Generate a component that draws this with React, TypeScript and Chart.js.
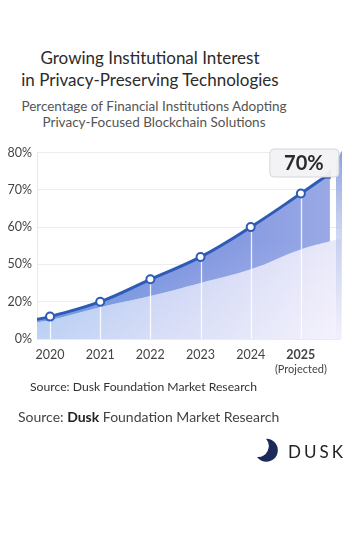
import React, { useEffect, useRef } from 'react';
import { Chart, registerables } from 'chart.js';

Chart.register(...registerables);

// ---------- data ----------
const years = [2020, 2021, 2022, 2023, 2024, 2025];
const adoption = [12, 20, 38, 52, 60, 69];
const lowerBand = [10, 17, 24.5, 35, 46, 54];
const lineStart = { x: 2019.74, y: 10.6 };
const lineEnd = { x: 2025.58, y: 74.4 };
const bandStart = { x: 2019.74, y: 9 };
const bandEnd = { x: 2025.8, y: 57 };
const tickValues = [0, 20, 50, 60, 70, 80];
const tickLabels = ['0%', '20%', '50%', '60%', '70%', '80%'];
const calloutText = '70%';
const projectedYear = 2025;
const projectedNote = '(Projected)';
const xRange = { min: 2019.74, max: 2025.8 };

// map a percentage onto the evenly spaced (non-linear) tick positions
function toAxis(p: number): number {
  for (let i = 0; i < tickValues.length - 1; i++) {
    if (p <= tickValues[i + 1]) {
      return i + (p - tickValues[i]) / (tickValues[i + 1] - tickValues[i]);
    }
  }
  return tickValues.length - 1 + (p - tickValues[tickValues.length - 1]) / 10;
}

const lineData = [
  { x: lineStart.x, y: toAxis(lineStart.y) },
  ...years.map((yr, i) => ({ x: yr, y: toAxis(adoption[i]) })),
  { x: lineEnd.x, y: toAxis(lineEnd.y) },
];
const bandData = [
  { x: bandStart.x, y: toAxis(bandStart.y) },
  ...years.map((yr, i) => ({ x: yr, y: toAxis(lowerBand[i]) })),
  { x: bandEnd.x, y: toAxis(bandEnd.y) },
];

const FONT = 'Lato, "Open Sans", sans-serif';

const decorPlugin = {
  id: 'decor',
  beforeDatasetsDraw(chart: any) {
    const { ctx, chartArea } = chart;
    // soft white fade towards the bottom of the filled area
    const fade = ctx.createLinearGradient(0, chartArea.top + 90, 0, chartArea.bottom);
    fade.addColorStop(0, 'rgba(255,255,255,0)');
    fade.addColorStop(1, 'rgba(255,255,255,0.25)');
    ctx.save();
    ctx.fillStyle = fade;
    ctx.fillRect(chartArea.left, chartArea.top + 90, chartArea.right - chartArea.left, chartArea.bottom - chartArea.top - 90);
    // white drop lines from each point to the baseline (after fills)
    const meta = chart.getDatasetMeta(0);
    ctx.strokeStyle = 'rgba(255,255,255,0.85)';
    ctx.lineWidth = 1.3;
    meta.data.forEach((pt: any, i: number) => {
      if (i === 0 || i === meta.data.length - 1) return;
      ctx.beginPath();
      ctx.moveTo(Math.round(pt.x) + 0.5, pt.y);
      ctx.lineTo(Math.round(pt.x) + 0.5, chartArea.bottom);
      ctx.stroke();
    });
    ctx.restore();
  },
  afterDatasetsDraw(chart: any) {
    const { ctx, chartArea } = chart;
    const meta = chart.getDatasetMeta(0);
    const last = meta.data[meta.data.length - 1];
    ctx.save();
    // side panel on the right edge
    const px0 = chartArea.right - 5;
    const px1 = chartArea.right + 1;
    const g = ctx.createLinearGradient(0, chartArea.top, 0, chartArea.bottom);
    g.addColorStop(0, 'rgba(125,150,218,0.9)');
    g.addColorStop(0.45, 'rgba(175,190,234,0.6)');
    g.addColorStop(1, 'rgba(238,238,250,0.5)');
    ctx.fillStyle = g;
    ctx.beginPath();
    ctx.moveTo(px0, chartArea.top + 9);
    ctx.lineTo(px1, chartArea.top - 2);
    ctx.lineTo(px1, chartArea.bottom);
    ctx.lineTo(px0, chartArea.bottom);
    ctx.closePath();
    ctx.fill();

    // arrow head at the end of the trend line
    ctx.fillStyle = '#1f3f8f';
    ctx.beginPath();
    ctx.moveTo(last.x + 1, last.y - 5);
    ctx.lineTo(last.x + 1, last.y + 5);
    ctx.lineTo(last.x - 8, last.y + 5);
    ctx.closePath();
    ctx.fill();

    // callout box over the projected point
    const pp = meta.data[years.indexOf(projectedYear) + 1];
    const bw = 69, bh = 28;
    const bx = pp.x + 3 - bw / 2;
    const by = pp.y - 17 - bh;
    ctx.fillStyle = 'rgba(242,242,245,0.96)';
    ctx.strokeStyle = '#d6d6dc';
    ctx.lineWidth = 1;
    ctx.beginPath();
    (ctx as any).roundRect(bx + 0.5, by + 0.5, bw, bh, 4);
    ctx.fill();
    ctx.stroke();
    ctx.fillStyle = '#2a2a2a';
    ctx.font = `bold 20px ${FONT}`;
    ctx.textAlign = 'center';
    ctx.textBaseline = 'middle';
    ctx.fillText(calloutText, bx + bw / 2, by + bh / 2 + 1);

    // "(Projected)" under the 2025 tick
    const xs = chart.scales.x;
    ctx.fillStyle = '#444';
    ctx.font = `11px ${FONT}`;
    ctx.fillText(projectedNote, xs.getPixelForValue(projectedYear), chartArea.bottom + 30);
    ctx.restore();
  },
};

function ChartCanvas() {
  const ref = useRef<HTMLCanvasElement | null>(null);
  useEffect(() => {
    if (!ref.current) return;
    const chart = new Chart(ref.current, {
      type: 'line',
      data: {
        datasets: [
          {
            label: 'Adoption',
            data: lineData,
            borderColor: '#2d5bb5',
            borderWidth: 3,
            tension: 0.4,
            pointRadius: lineData.map((_, i) => (i === 0 || i === lineData.length - 1 ? 0 : 4)),
            pointBackgroundColor: '#ffffff',
            pointBorderColor: '#2d5bb5',
            pointBorderWidth: 2,
            fill: '+1',
            backgroundColor: (c: any) => {
              const a = c.chart.chartArea;
              if (!a) return 'rgba(90,120,215,0.8)';
              const gr = c.chart.ctx.createLinearGradient(a.left, 0, a.right, 0);
              gr.addColorStop(0, '#5080d8');
              gr.addColorStop(0.5, '#7d93df');
              gr.addColorStop(1, '#9cabe6');
              return gr;
            },
          },
          {
            label: 'Band',
            data: bandData,
            borderWidth: 0,
            pointRadius: 0,
            tension: 0.4,
            fill: 'origin',
            backgroundColor: (c: any) => {
              const a = c.chart.chartArea;
              if (!a) return 'rgba(200,210,245,0.8)';
              const gr = c.chart.ctx.createLinearGradient(a.left, a.top + 90, a.right, a.bottom);
              gr.addColorStop(0, '#a0c0f0');
              gr.addColorStop(0.45, '#cbd3f4');
              gr.addColorStop(1, '#f1eefb');
              return gr;
            },
          },
        ],
      },
      options: {
        responsive: false,
        animation: false,
        layout: { padding: { top: 10, right: 15, left: 0, bottom: 0 } },
        plugins: {
          legend: { display: false },
          tooltip: { enabled: false },
          filler: { drawTime: 'beforeDatasetsDraw' },
        } as any,
        scales: {
          x: {
            type: 'linear',
            min: xRange.min,
            max: xRange.max,
            afterBuildTicks: (s: any) => {
              s.ticks = years.map((v) => ({ value: v }));
            },
            afterFit: (s: any) => {
              s.height = 41;
            },
            grid: { display: false, drawTicks: false },
            border: { display: false },
            ticks: {
              padding: 8,
              color: '#444',
              autoSkip: false,
              maxRotation: 0,
              callback: (v: any) => String(v),
              font: (c: any) => ({
                family: FONT,
                size: 12.5,
                weight: c.tick && c.tick.value === projectedYear ? 'bold' : 'normal',
              }),
            },
          },
          y: {
            type: 'linear',
            min: 0,
            max: tickLabels.length - 1,
            afterFit: (s: any) => {
              s.width = 37;
            },
            grid: { color: '#ececec', lineWidth: 1, drawTicks: false },
            border: { display: true, color: '#e8e8e8' },
            ticks: {
              stepSize: 1,
              padding: 5,
              color: '#444',
              font: { family: FONT, size: 12.5 },
              callback: (v: any) => tickLabels[v as number] ?? '',
            },
          },
        },
      } as any,
      plugins: [decorPlugin],
    });
    return () => chart.destroy();
  }, []);
  return (
    <canvas
      ref={ref}
      width={356}
      height={240}
      style={{ position: 'absolute', left: 0, top: 140, width: 356, height: 240 }}
    />
  );
}

export default function App() {
  useEffect(() => {
    document.body.style.margin = '0';
  }, []);
  return (
    <div
      style={{
        position: 'relative',
        width: 356,
        height: 533,
        background: '#ffffff',
        fontFamily: FONT,
        overflow: 'hidden',
      }}
    >
      <div
        style={{
          position: 'absolute',
          top: 47,
          left: 0,
          width: 300,
          textAlign: 'center',
          fontSize: 17,
          lineHeight: '22px',
          color: '#2b2b2b',
        }}
      >
        Growing Institutional Interest
        <br />
        in Privacy-Preserving Technologies
      </div>
      <div
        style={{
          position: 'absolute',
          top: 98,
          left: 0,
          width: 308,
          textAlign: 'center',
          fontSize: 13.5,
          lineHeight: '16px',
          color: '#555',
        }}
      >
        Percentage of Financial Institutions Adopting
        <br />
        Privacy-Focused Blockchain Solutions
      </div>
      <ChartCanvas />
      <div style={{ position: 'absolute', top: 379, left: 30, fontSize: 12.2, color: '#333', whiteSpace: 'nowrap' }}>
        Source: Dusk Foundation Market Research
      </div>
      <div style={{ position: 'absolute', top: 408, left: 18, fontSize: 14, color: '#444', whiteSpace: 'nowrap' }}>
        Source: <span style={{ fontWeight: 700, color: '#222' }}>Dusk</span> Foundation Market Research
      </div>
      <svg
        width={28}
        height={28}
        viewBox="0 0 28 28"
        style={{ position: 'absolute', left: 256, top: 438 }}
      >
        <path d="M10 0.8 A11.5 11.5 0 1 1 1 19 A11 11 0 0 0 10 0.8 Z" fill="#1c2a5a" />
      </svg>
      <div
        style={{
          position: 'absolute',
          top: 441,
          left: 288,
          fontSize: 17,
          letterSpacing: 3,
          color: '#222',
          whiteSpace: 'nowrap',
        }}
      >
        DUSK
      </div>
    </div>
  );
}
